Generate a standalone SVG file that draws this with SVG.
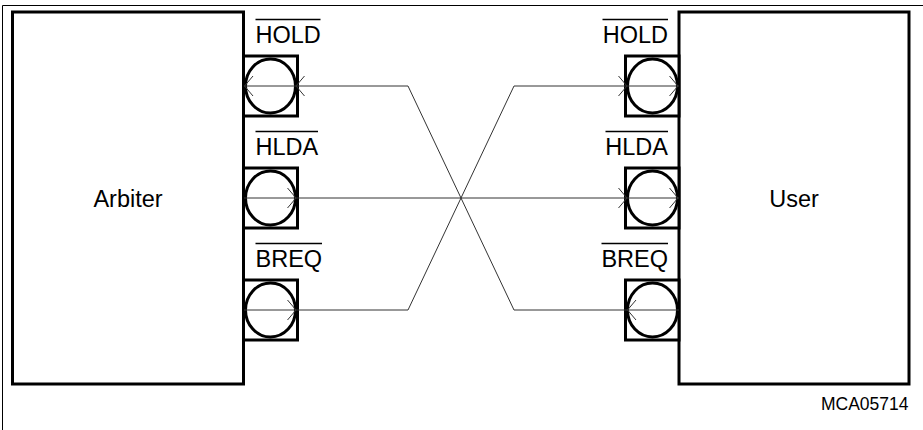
<svg xmlns="http://www.w3.org/2000/svg" xmlns:xlink="http://www.w3.org/1999/xlink" width="923" height="430" viewBox="0 0 923 430">
<style>
  .box { fill: #fff; stroke: #000; stroke-width: 3; }
  .sq { fill: #fff; stroke: #000; stroke-width: 3; }
  .pad { fill: #fff; stroke: #000; stroke-width: 3; }
  .lbl { font-family: "Liberation Sans", Arial, sans-serif; font-size: 23.5px; fill: #000; }
  .big { font-family: "Liberation Sans", Arial, sans-serif; font-size: 23.5px; fill: #000; text-anchor: middle; }
  .ref { font-family: "Liberation Sans", Arial, sans-serif; font-size: 17.5px; fill: #000; text-anchor: end; }
  .ovl { stroke: #000; stroke-width: 1.3; }
  .wire { fill: none; stroke: #333; stroke-width: 1; }
  .frame { fill: none; stroke: #000; stroke-width: 1; }
</style>
<defs>
  <path id="chev" d="M-8.5,-10 L0,0 L-8.5,10" fill="none" stroke="#333" stroke-width="1"/>
</defs>
<rect width="923" height="430" fill="#fff"/>
<path class="frame" d="M2.5,430 V5.5 H923"/>

<g id="arbiter">
  <rect class="box" x="12.5" y="12" width="231" height="372"/>
  <text class="big" x="128" y="206.5">Arbiter</text>
</g>
<g id="user">
  <rect class="box" x="679" y="12" width="230" height="372"/>
  <text class="big" x="794" y="206.5">User</text>
</g>

<g id="arbiter-hold">
  <rect class="sq" x="243.5" y="56" width="54" height="60"/>
  <ellipse class="pad" cx="270.5" cy="86" rx="25" ry="27"/>
  <text class="lbl" x="255.5" y="43">HOLD</text>
  <line class="ovl" x1="255.5" y1="19.5" x2="320.5" y2="19.5"/>
</g>
<g id="arbiter-hlda">
  <rect class="sq" x="243.5" y="168" width="54" height="60"/>
  <ellipse class="pad" cx="270.5" cy="198" rx="25" ry="27"/>
  <text class="lbl" x="255.5" y="155">HLDA</text>
  <line class="ovl" x1="255.5" y1="131.5" x2="318" y2="131.5"/>
</g>
<g id="arbiter-breq">
  <rect class="sq" x="243.5" y="280" width="54" height="60"/>
  <ellipse class="pad" cx="270.5" cy="310" rx="25" ry="27"/>
  <text class="lbl" x="255.5" y="267">BREQ</text>
  <line class="ovl" x1="255.5" y1="243.5" x2="322" y2="243.5"/>
</g>

<g id="user-hold">
  <rect class="sq" x="625.5" y="56" width="53.5" height="60"/>
  <ellipse class="pad" cx="652.5" cy="86" rx="25" ry="27"/>
  <text class="lbl" x="668" y="43" text-anchor="end">HOLD</text>
  <line class="ovl" x1="602.5" y1="19.5" x2="668" y2="19.5"/>
</g>
<g id="user-hlda">
  <rect class="sq" x="625.5" y="168" width="53.5" height="60"/>
  <ellipse class="pad" cx="652.5" cy="198" rx="25" ry="27"/>
  <text class="lbl" x="668" y="155" text-anchor="end">HLDA</text>
  <line class="ovl" x1="605.5" y1="131.5" x2="668" y2="131.5"/>
</g>
<g id="user-breq">
  <rect class="sq" x="625.5" y="280" width="53.5" height="60"/>
  <ellipse class="pad" cx="652.5" cy="310" rx="25" ry="27"/>
  <text class="lbl" x="668" y="267" text-anchor="end">BREQ</text>
  <line class="ovl" x1="601.5" y1="243.5" x2="668" y2="243.5"/>
</g>

<g id="connectors">
  <path class="wire" d="M244,198 H679"/>
  <path class="wire" d="M244,86 H408 L514,310 H679"/>
  <path class="wire" d="M244,310 H408 L514,86 H679"/>
  <!-- Arbiter HOLD input: arrows pointing left -->
  <use xlink:href="#chev" transform="translate(244.5,86) scale(-1,1)"/>
  <use xlink:href="#chev" transform="translate(296,86) scale(-1,1)"/>
  <!-- Arbiter HLDA / BREQ outputs -->
  <use xlink:href="#chev" transform="translate(296,198)"/>
  <use xlink:href="#chev" transform="translate(296,310)"/>
  <!-- User HOLD / HLDA inputs -->
  <use xlink:href="#chev" transform="translate(627,86)"/>
  <use xlink:href="#chev" transform="translate(678,86)"/>
  <use xlink:href="#chev" transform="translate(627,198)"/>
  <use xlink:href="#chev" transform="translate(678,198)"/>
  <!-- User BREQ output -->
  <use xlink:href="#chev" transform="translate(627.5,310) scale(-1,1)"/>
</g>

<text class="ref" x="908.5" y="410">MCA05714</text>
</svg>
